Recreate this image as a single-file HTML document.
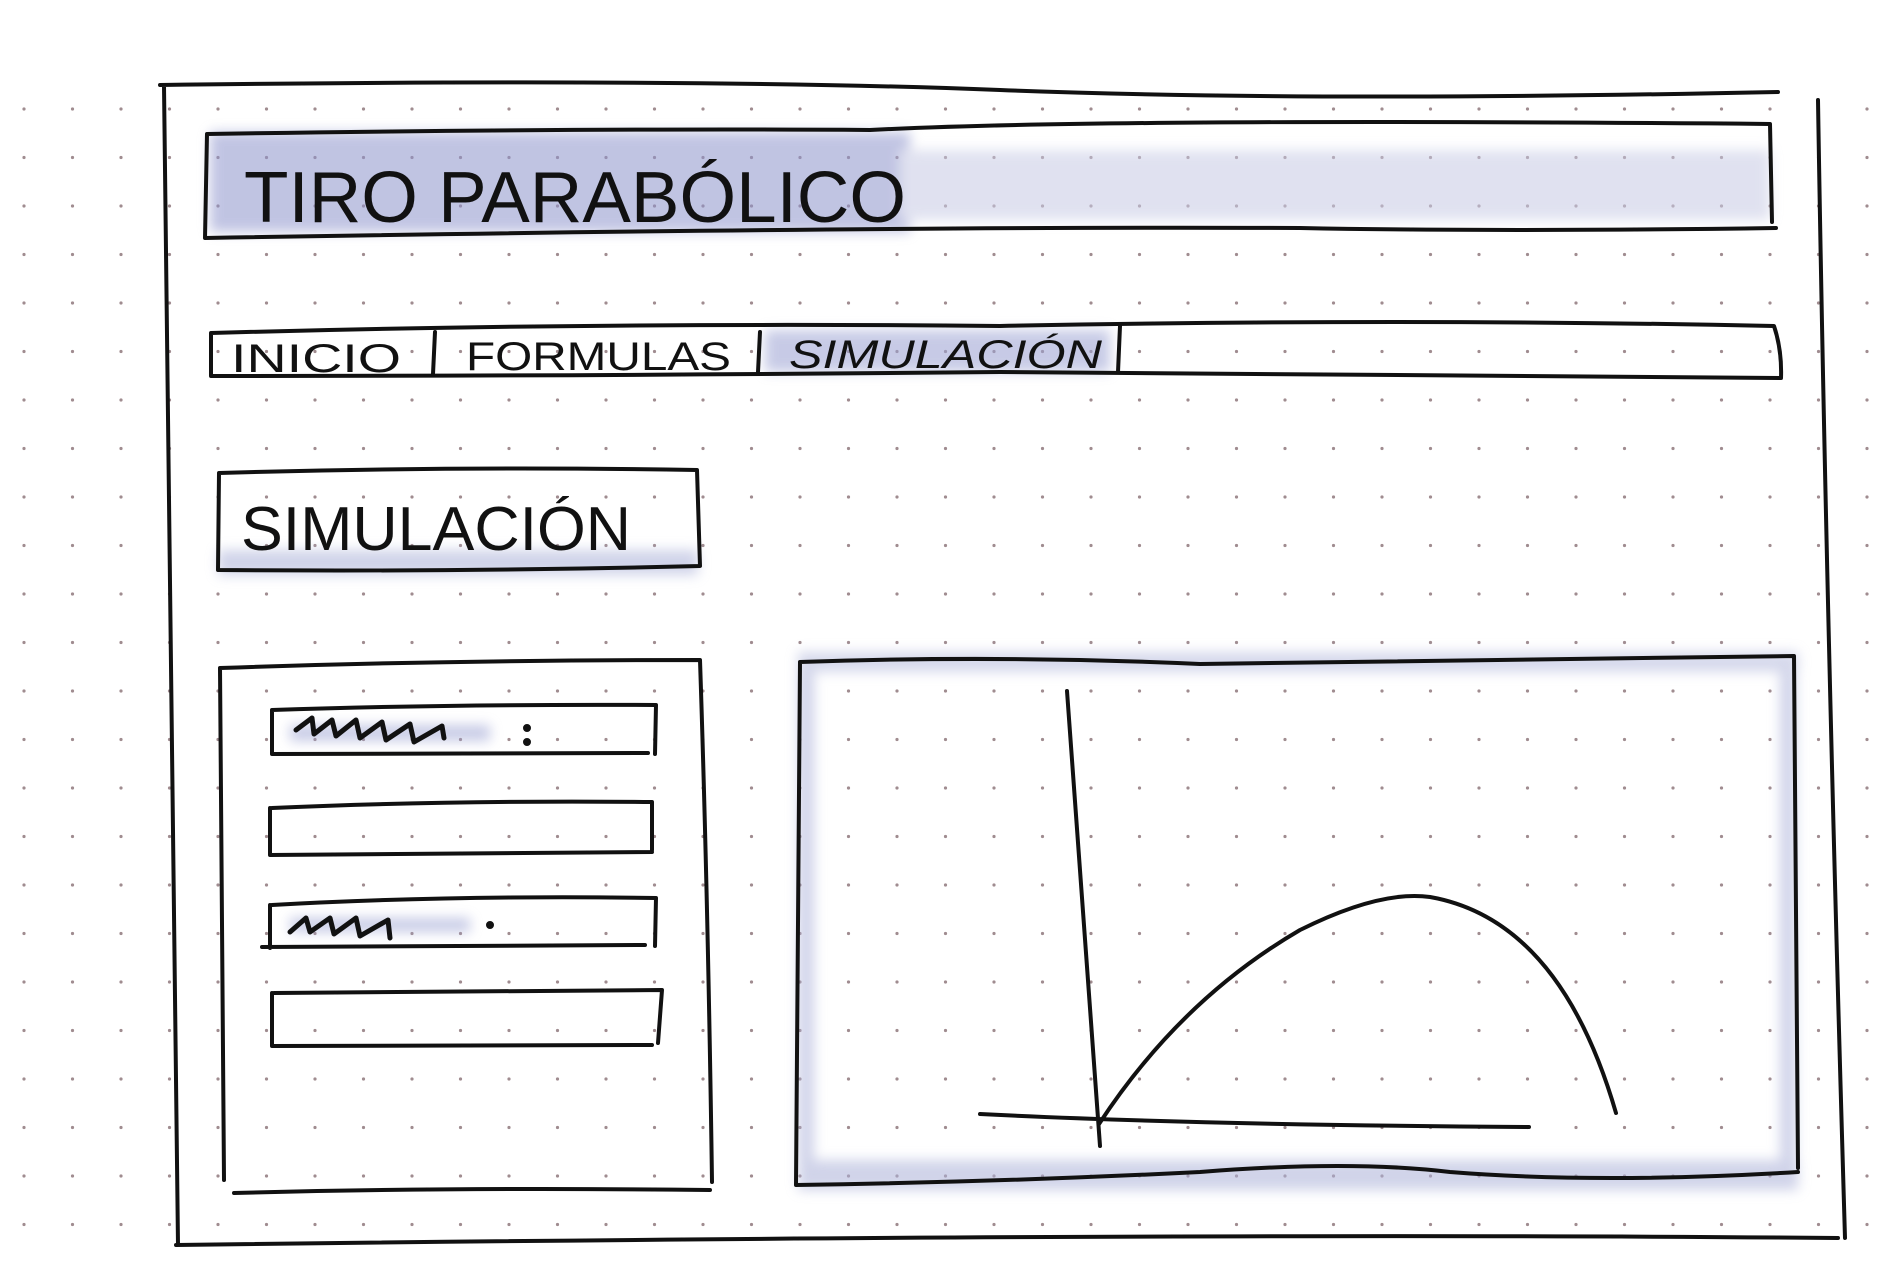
<!DOCTYPE html>
<html><head><meta charset="utf-8"><style>
html,body{margin:0;padding:0;background:#fff;}
svg{display:block;}
text{font-family:"Liberation Sans",sans-serif;fill:#111;}
</style></head><body>
<svg width="1900" height="1268" viewBox="0 0 1900 1268" xmlns="http://www.w3.org/2000/svg">
<defs>
<pattern id="dots" x="20" y="8" width="48.5" height="48.5" patternUnits="userSpaceOnUse">
<circle cx="4" cy="4" r="1.6" fill="#a08c90"/>
</pattern>
<filter id="blur"><feGaussianBlur stdDeviation="6"/></filter>
</defs>
<rect width="1900" height="1268" fill="#fff"/>
<rect y="100" width="1900" height="1168" fill="url(#dots)"/>
<g filter="url(#blur)" opacity="0.55">
<rect x="210" y="132" width="700" height="100" fill="#8e94cc"/>
<rect x="900" y="150" width="870" height="70" fill="#c7cae4"/>
<rect x="765" y="330" width="345" height="42" fill="#9aa0d2"/>
<rect x="218" y="550" width="480" height="25" fill="#aab0d8"/>
<rect x="798" y="655" width="16" height="520" fill="#aab0d8"/>
<rect x="1780" y="655" width="16" height="520" fill="#aab0d8"/>
<rect x="798" y="1160" width="1000" height="30" fill="#aab0d8"/>
<rect x="798" y="652" width="1000" height="20" fill="#b4b9dc"/>
<rect x="290" y="725" width="200" height="16" fill="#9aa0d2"/>
<rect x="290" y="918" width="180" height="14" fill="#9aa0d2"/>
</g>
<g fill="none" stroke="#111" stroke-width="4" stroke-linecap="round" stroke-linejoin="round">
<path d="M160 85 Q700 78 1000 90 T1778 92 M1818 100 Q1826 600 1845 1238 M1838 1238 Q1200 1232 176 1245 M178 1245 Q172 700 164 86"/>
<path d="M207 134 Q600 128 870 130 Q1100 118 1770 124 L1772 222 M1776 228 Q1500 232 1300 228 Q900 226 205 238 L207 134"/>
<path d="M211 333 Q600 322 1000 326 Q1400 318 1774 326 Q1782 350 1781 378 Q1400 374 1000 372 Q600 376 211 376 Z"/>
<path d="M435 332 L433 374 M760 332 L758 372 M1120 326 L1118 372"/>
<path d="M219 473 Q450 466 697 470 L700 566 Q460 572 218 570 Z"/>
<path d="M220 668 Q450 660 700 660 Q708 900 712 1182 M220 668 L224 1180 M234 1193 Q450 1187 710 1190"/>
<path d="M272 710 Q450 704 656 705 L655 754 M272 710 L272 754 L648 753"/>
<path d="M272 808 Q450 800 652 802 L652 850 M270 808 L270 855 L652 852"/>
<path d="M272 905 Q450 895 656 898 L655 946 M270 905 L270 948 M262 947 L645 945"/>
<path d="M274 993 Q450 992 662 990 L658 1043 M272 993 L272 1046 L652 1045"/>
<path d="M296 730 L312 718 L314 734 L332 720 L336 736 L356 720 L360 738 L382 722 L386 740 L410 724 L414 742 L442 726 L444 738" stroke-width="5"/>
<path d="M290 932 L306 918 L310 932 L330 918 L334 934 L356 918 L360 936 L388 920 L390 938" stroke-width="5"/>
<circle cx="527" cy="728" r="2" fill="#111"/><circle cx="527" cy="742" r="2" fill="#111"/>
<circle cx="490" cy="925" r="2" fill="#111"/>
<path d="M800 662 Q1000 655 1200 664 Q1400 660 1794 656 L1798 1168 M800 662 L796 1185 M796 1185 Q1000 1182 1200 1172 Q1350 1160 1450 1172 Q1600 1184 1798 1172"/>
<path d="M1067 691 L1100 1146 M980 1114 Q1200 1125 1529 1127"/>
<path d="M1099 1124 Q1180 1000 1300 930 Q1380 890 1430 897 Q1560 920 1616 1113"/>
</g>
<text x="244" y="222" font-size="72" textLength="662" lengthAdjust="spacingAndGlyphs">TIRO PARABÓLICO</text>
<text x="231" y="372" font-size="40" textLength="170" lengthAdjust="spacingAndGlyphs">INICIO</text>
<text x="466" y="370" font-size="40" textLength="265" lengthAdjust="spacingAndGlyphs">FORMULAS</text>
<text x="789" y="368" font-size="40" font-style="italic" textLength="313" lengthAdjust="spacingAndGlyphs">SIMULACIÓN</text>
<text x="241" y="550" font-size="62" textLength="390" lengthAdjust="spacingAndGlyphs">SIMULACIÓN</text>
</svg>
</body></html>
